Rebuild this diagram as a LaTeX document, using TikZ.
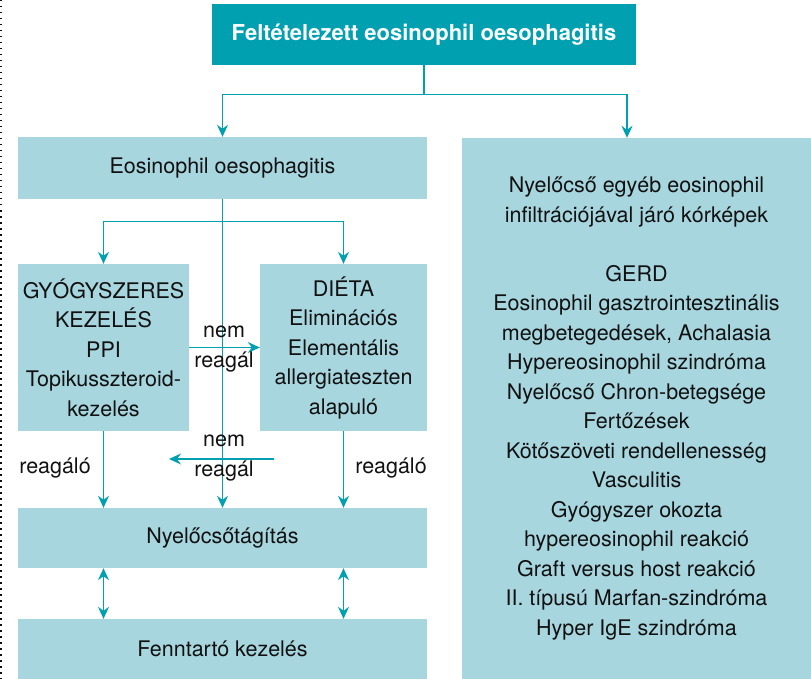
\documentclass[tikz,border=0pt]{standalone}
\usepackage{fontspec}
\setmainfont{TeX Gyre Heros}
\usepackage{tikz}
\usetikzlibrary{arrows.meta,positioning}
\definecolor{teal1}{RGB}{0,160,176}
\definecolor{lightbox}{RGB}{168,214,223}
\definecolor{ink}{RGB}{17,17,17}

\begin{document}
\begin{tikzpicture}[x=1pt, y=-1pt, >={Stealth[length=12pt,width=11pt,inset=4pt]},
    every node/.style={font=\fontsize{21.5}{29.5}\selectfont, text=ink, inner sep=0pt},
    box/.style={fill=lightbox, align=center},
    topbox/.style={fill=teal1, text=white, font=\fontsize{22}{29.5}\selectfont\bfseries},
    link/.style={draw=teal1, line width=1.3pt}]
    \useasboundingbox (0,0) rectangle (811,679);
    % Dotted margin
    \draw[line width=1.5pt, dash pattern=on 1.5pt off 4.5pt, ink] (1,0) -- (1,679);
    % Boxes
    \node[topbox, minimum width=424, minimum height=61] (top) at (424,34.5) {Feltételezett eosinophil oesophagitis};
    \node[box, minimum width=409, minimum height=62] (eos) at (222.5,168) {Eosinophil oesophagitis};
    \node[box, minimum width=349, minimum height=541] (other) at (636.5,408.5)
      {Nyelőcső egyéb eosinophil\\infiltrációjával járó kórképek\\[29.5pt]GERD\\Eosinophil gasztrointesztinális\\megbetegedések, Achalasia\\Hypereosinophil szindróma\\Nyelőcső Chron-betegsége\\Fertőzések\\Kötőszöveti rendellenesség\\Vasculitis\\Gyógyszer okozta\\hypereosinophil reakció\\Graft versus host reakció\\II. típusú Marfan-szindróma\\Hyper IgE szindróma};
    \node[box, minimum width=171, minimum height=167] (drug) at (103.5,347.5)
      {GYÓGYSZERES\\KEZELÉS\\PPI\\Topikusszteroid-\\kezelés};
    \node[box, minimum width=167, minimum height=167] (diet) at (343.5,347.5)
      {DIÉTA\\Eliminációs\\Elementális\\allergiateszten\\alapuló};
    \node[box, minimum width=409, minimum height=60] (dilate) at (222.5,538) {Nyelőcsőtágítás};
    \node[box, minimum width=409, minimum height=60] (maint) at (222.5,649) {Fenntartó kezelés};
    % Top split
    \draw[link] (top.south) -- ++(0,29) coordinate (split);
    \draw[link,->] (split) -| (eos.north);
    \draw[link,->] (split) -| ([xshift=-9.5pt]other.north);
    % Treatment split
    \draw[link,->] (eos.south) -- (dilate.north);
    \path (eos.south) ++(0,22) coordinate (fork);
    \draw[link,->] (fork) -| (drug.north);
    \draw[link,->] (fork) -| (diet.north);
    % Cross arrows
    \draw[link,->] (drug.east) -- (diet.west);
    \coordinate (backstart) at (274,459);
    \coordinate (backend) at (169,459);
    \draw[link,->] (backstart) -- (backend);
    \node[align=center] (nr1) at (224,349) {nem\\reagál};
    \node[align=center, font=\fontsize{21.5}{30}\selectfont] (nr2) at (224,458) {nem\\reagál};
    % Responding
    \draw[link,->] (drug.south) -- (drug.south |- dilate.north);
    \draw[link,->] (diet.south) -- (diet.south |- dilate.north);
    \node (r1) at (55,468) {reagáló};
    \node (r2) at (391,468) {reagáló};
    % Maintenance
    \draw[link,<->] (drug.south |- dilate.south) -- (drug.south |- maint.north);
    \draw[link,<->] (diet.south |- dilate.south) -- (diet.south |- maint.north);
\end{tikzpicture}
\end{document}
